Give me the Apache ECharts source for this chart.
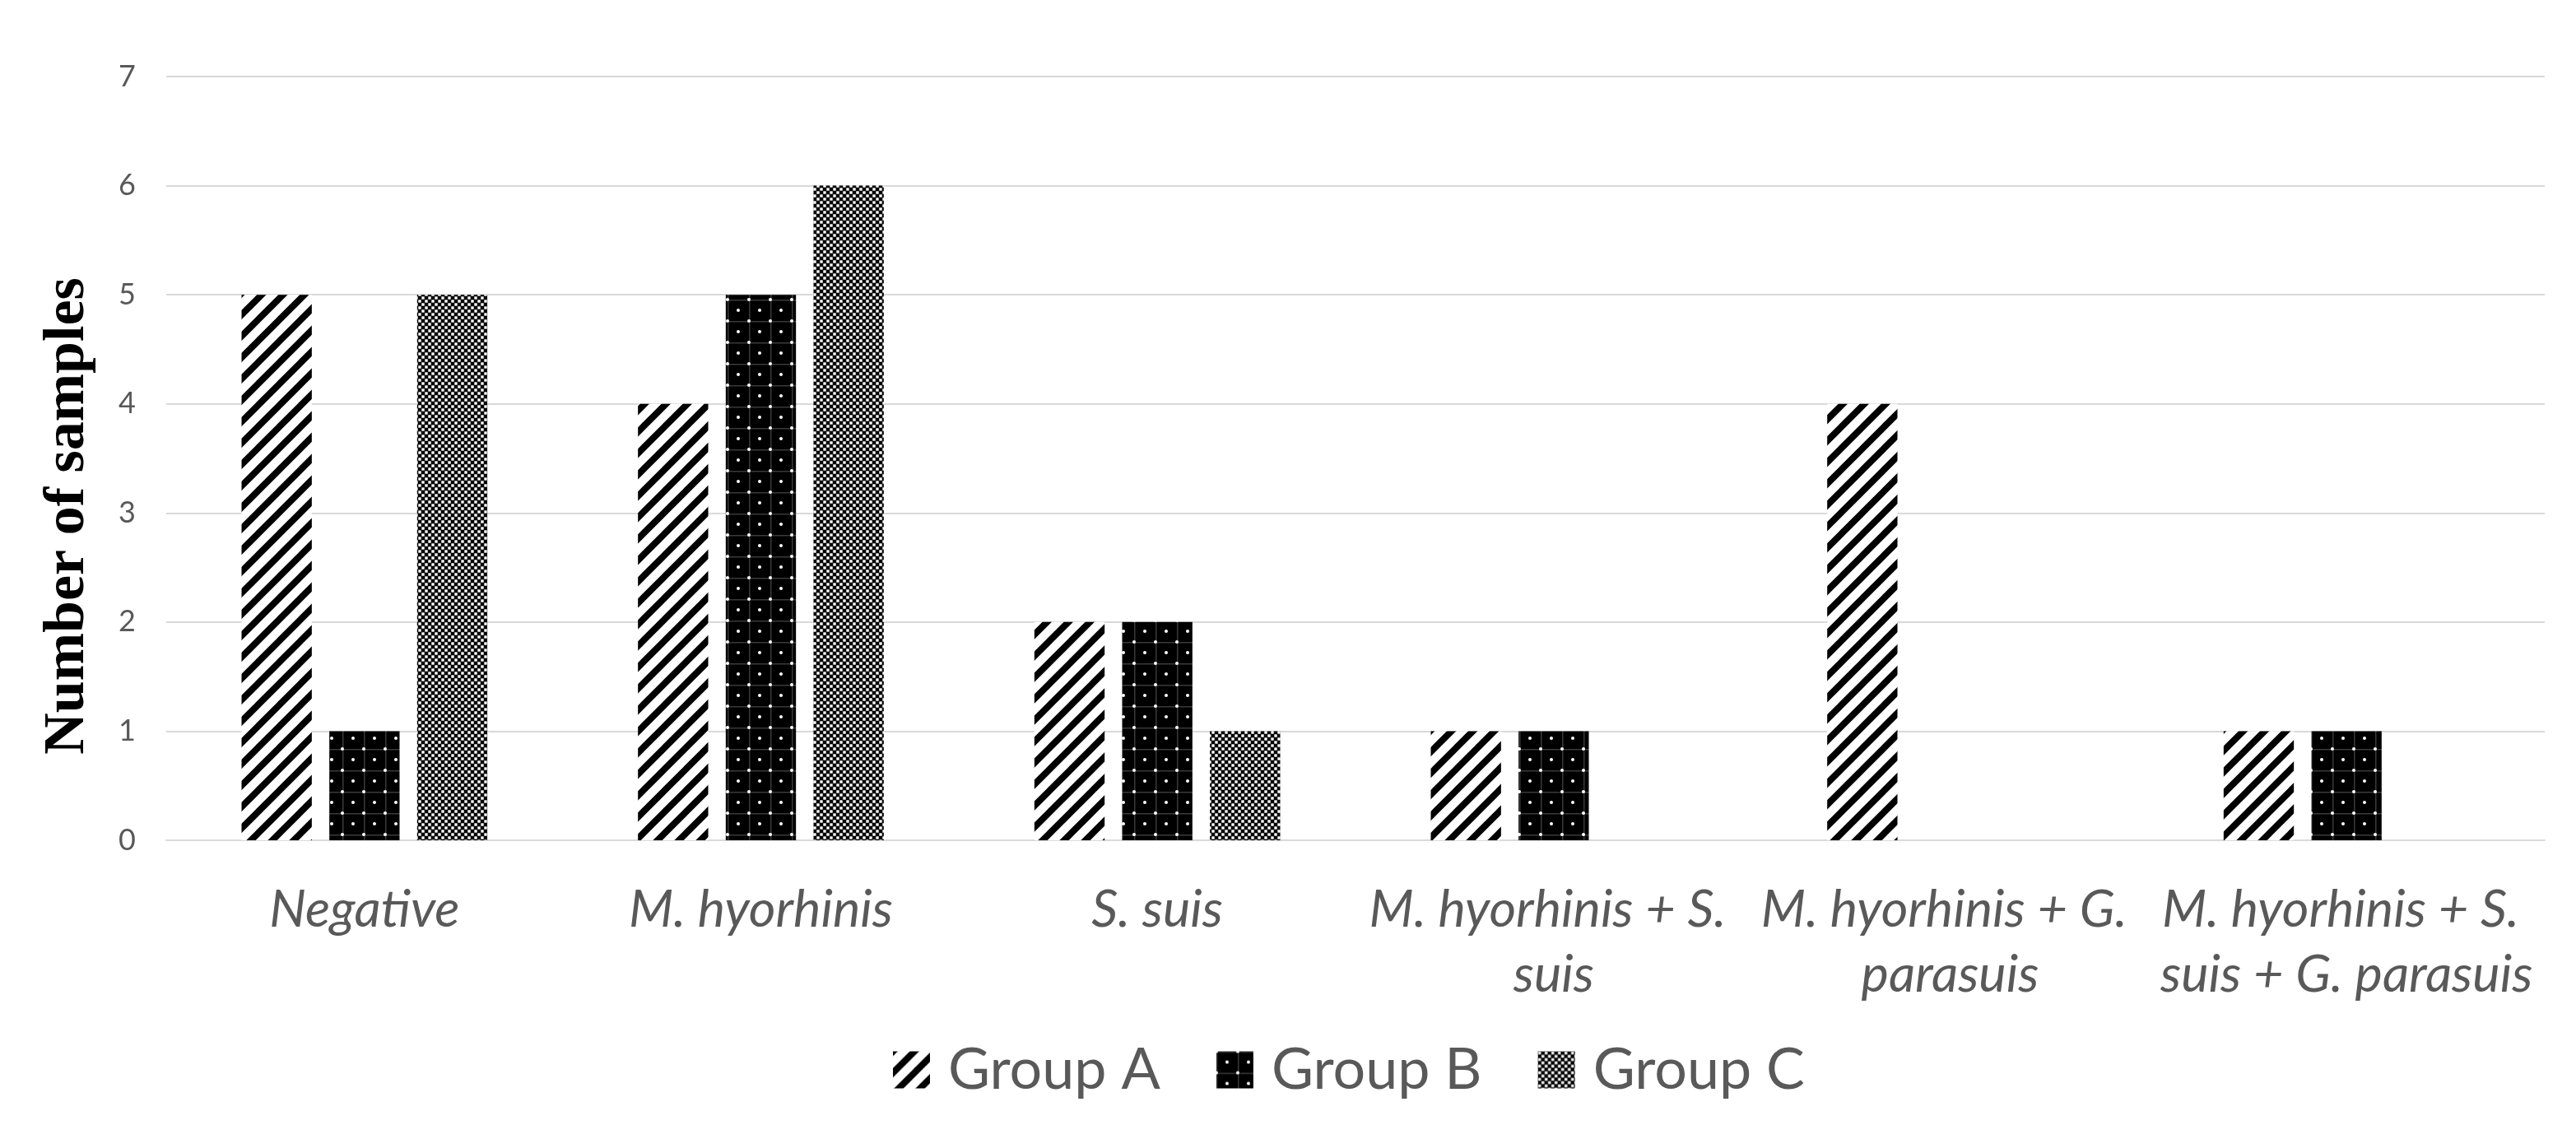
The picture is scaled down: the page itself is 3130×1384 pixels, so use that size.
<!DOCTYPE html>
<html>
<head>
<meta charset="utf-8">
<script src="https://cdn.jsdelivr.net/npm/echarts@6/dist/echarts.min.js"></script>
<style>
html,body{margin:0;padding:0;background:#fff;}
#chart{width:3130px;height:1384px;}
</style>
</head>
<body>
<div id="chart"></div>
<script>
// ---- data ----
const categories = ['Negative', 'M. hyorhinis', 'S. suis', 'M. hyorhinis + S. suis', 'M. hyorhinis + G. parasuis', 'M. hyorhinis + S. suis + G. parasuis'];
const seriesNames = ['Group A', 'Group B', 'Group C'];
const groupA = [5, 4, 2, 1, 4, 1];
const groupB = [1, 5, 2, 1, 0, 1];
const groupC = [5, 6, 1, 0, 0, 0];
const yTicks = [0, 1, 2, 3, 4, 5, 6, 7];
const yTitle = 'Number of samples';

// ---- patterns ----
function stripePattern() {
  const P = 26, c = document.createElement('canvas');
  c.width = P; c.height = P;
  const g = c.getContext('2d');
  g.fillStyle = '#fff'; g.fillRect(0, 0, P, P);
  g.strokeStyle = '#000'; g.lineWidth = 8; g.lineCap = 'square';
  for (let k = -1; k <= 1; k++) {
    g.beginPath(); g.moveTo(k * P, P); g.lineTo(k * P + P, 0); g.stroke();
  }
  return c;
}
function dotPattern() {
  const P = 26, c = document.createElement('canvas');
  c.width = P; c.height = P;
  const g = c.getContext('2d');
  g.fillStyle = '#000'; g.fillRect(0, 0, P, P);
  g.fillStyle = '#3a3a3a';
  g.fillRect(0, 0, P, 1.5); g.fillRect(0, 0, 1.5, P);
  g.fillStyle = '#fff';
  g.beginPath(); g.arc(P / 2, P / 2, 2, 0, Math.PI * 2); g.fill();
  const corners = [[0,0],[P,0],[0,P],[P,P]];
  corners.forEach(([x, y]) => { g.beginPath(); g.arc(x, y, 2, 0, Math.PI * 2); g.fill(); });
  return c;
}
function checkPattern() {
  const P = 8, c = document.createElement('canvas');
  c.width = P; c.height = P;
  const g = c.getContext('2d');
  g.fillStyle = '#000'; g.fillRect(0, 0, P, P);
  g.fillStyle = '#fff';
  g.fillRect(0.3, 0.3, 3.4, 3.4); g.fillRect(4.3, 4.3, 3.4, 3.4);
  return c;
}
const patterns = [stripePattern(), dotPattern(), checkPattern()];
const values = [groupA, groupB, groupC];

const labelColor = '#595959';
const chart = echarts.init(document.getElementById('chart'), null, {renderer: 'canvas'});
chart.setOption({
  animation: false,
  backgroundColor: '#fff',
  grid: {left: 202, right: 38, top: 93, bottom: 363, containLabel: false},
  legend: {
    data: seriesNames,
    left: 1080,
    top: 1260,
    icon: 'rect',
    itemWidth: 45,
    itemHeight: 45,
    itemGap: 68,
    textStyle: {fontFamily: 'Lato', fontSize: 70, color: labelColor, padding: [0, 0, 0, 17]}
  },
  xAxis: {
    type: 'category',
    data: categories,
    axisLine: {show: true, lineStyle: {color: '#d9d9d9', width: 2}},
    axisTick: {show: false},
    axisLabel: {
      interval: 0,
      margin: 45,
      fontFamily: 'Lato',
      fontStyle: 'italic',
      fontSize: 63,
      lineHeight: 79,
      color: labelColor,
      width: 475,
      overflow: 'break'
    }
  },
  yAxis: {
    type: 'value',
    min: yTicks[0],
    max: yTicks[yTicks.length - 1],
    interval: 1,
    name: yTitle,
    nameLocation: 'middle',
    nameGap: 84,
    nameTextStyle: {fontFamily: 'Liberation Serif', fontWeight: 'bold', fontSize: 70, color: '#000', padding: [0, 140, 0, 0]},
    axisLine: {show: false},
    axisTick: {show: false},
    splitLine: {show: true, lineStyle: {color: '#d9d9d9', width: 2}},
    axisLabel: {margin: 37, fontFamily: 'Lato', fontSize: 36, color: labelColor}
  },
  series: seriesNames.map((name, i) => ({
    name: name,
    type: 'bar',
    data: values[i],
    barGap: '25%',
    barCategoryGap: '38%',
    itemStyle: {color: {image: patterns[i], repeat: 'repeat'}}
  }))
});
</script>
</body>
</html>
